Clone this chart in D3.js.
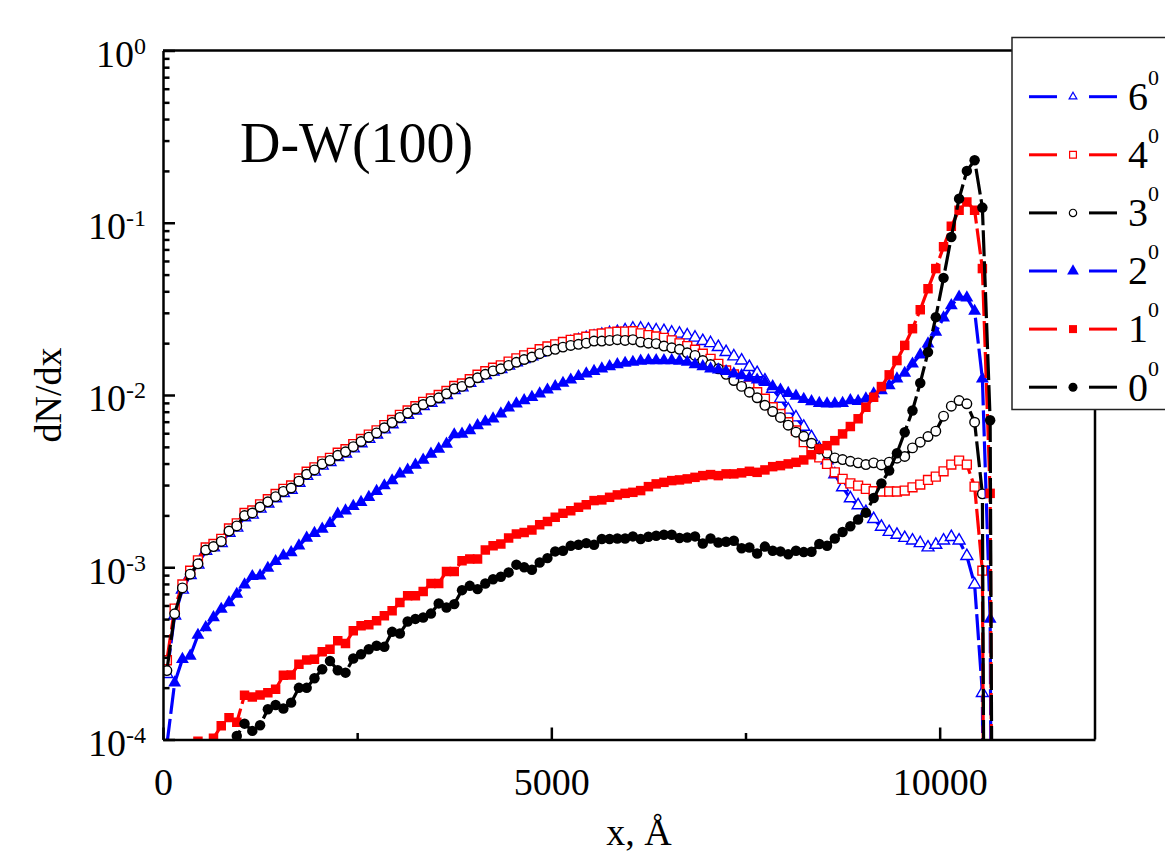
<!DOCTYPE html>
<html lang="en">
<head>
    <meta charset="UTF-8">
    <title>D-W(100) - dN/dx</title>
    <script src="https://d3js.org/d3.v7.min.js"></script>
    <style>
        html, body {
            margin: 0;
            background: #fff;
        }
        svg text {
            font-family: "Liberation Serif", "Times New Roman", serif;
            fill: #000;
        }
    </style>
</head>
<body>
    <div id="vis"></div>

    <script>
        /*
         *  DATA
         */
        // bin centres, Angstrom
        var xBins = [
            50, 150, 250, 350, 450, 550, 650, 750, 850, 950,
            1050, 1150, 1250, 1350, 1450, 1550, 1650, 1750, 1850, 1950,
            2050, 2150, 2250, 2350, 2450, 2550, 2650, 2750, 2850, 2950,
            3050, 3150, 3250, 3350, 3450, 3550, 3650, 3750, 3850, 3950,
            4050, 4150, 4250, 4350, 4450, 4550, 4650, 4750, 4850, 4950,
            5050, 5150, 5250, 5350, 5450, 5550, 5650, 5750, 5850, 5950,
            6050, 6150, 6250, 6350, 6450, 6550, 6650, 6750, 6850, 6950,
            7050, 7150, 7250, 7350, 7450, 7550, 7650, 7750, 7850, 7950,
            8050, 8150, 8250, 8350, 8450, 8550, 8650, 8750, 8850, 8950,
            9050, 9150, 9250, 9350, 9450, 9550, 9650, 9750, 9850, 9950,
            10050, 10150, 10250, 10350, 10450, 10550, 10650, 10750
        ];

        // log10(dN/dx) per bin. -12 = empty bin (falls off the log axis)
        var lg6 = [
            -3.62, -3.28, -3.13, -3.045, -2.985, -2.905, -2.885, -2.86, -2.80, -2.77,
            -2.71, -2.695, -2.66, -2.63, -2.60, -2.57, -2.55, -2.51, -2.47, -2.445,
            -2.41, -2.39, -2.36, -2.34, -2.31, -2.28, -2.255, -2.23, -2.20, -2.17,
            -2.14, -2.115, -2.09, -2.065, -2.045, -2.025, -2.00, -1.972, -1.956, -1.93,
            -1.905, -1.885, -1.864, -1.85, -1.83, -1.81, -1.792, -1.776, -1.755, -1.738,
            -1.724, -1.708, -1.694, -1.682, -1.67, -1.66, -1.65, -1.641, -1.635, -1.625,
            -1.615, -1.615, -1.621, -1.625, -1.629, -1.638, -1.644, -1.654, -1.667, -1.687,
            -1.699, -1.722, -1.751, -1.776, -1.80, -1.838, -1.873, -1.916, -1.964, -2.022,
            -2.085, -2.13, -2.185, -2.245, -2.31, -2.38, -2.46, -2.536, -2.60, -2.64,
            -2.68, -2.72, -2.765, -2.795, -2.812, -2.83, -2.845, -2.86, -2.885, -2.87,
            -2.845, -2.825, -2.845, -2.935, -3.10, -3.73, -12
        ];
        var lg4 = [
            -3.54, -3.24, -3.10, -3.02, -2.96, -2.885, -2.865, -2.835, -2.775, -2.745,
            -2.685, -2.67, -2.635, -2.605, -2.575, -2.545, -2.525, -2.485, -2.445, -2.42,
            -2.385, -2.365, -2.335, -2.315, -2.285, -2.255, -2.23, -2.205, -2.175, -2.145,
            -2.115, -2.09, -2.065, -2.04, -2.02, -2.00, -1.977, -1.948, -1.933, -1.908,
            -1.882, -1.862, -1.842, -1.828, -1.806, -1.787, -1.77, -1.755, -1.734, -1.718,
            -1.706, -1.692, -1.68, -1.672, -1.662, -1.648, -1.643, -1.636, -1.633, -1.632,
            -1.63, -1.642, -1.652, -1.66, -1.668, -1.683, -1.70, -1.716, -1.737, -1.76,
            -1.79, -1.819, -1.858, -1.881, -1.916, -1.945, -1.984, -2.022, -2.071, -2.11,
            -2.158, -2.206, -2.274, -2.327, -2.362, -2.40, -2.449, -2.487, -2.513, -2.526,
            -2.545, -2.559, -2.56, -2.56, -2.56, -2.555, -2.536, -2.52, -2.493, -2.474,
            -2.443, -2.404, -2.381, -2.404, -2.532, -3.02, -12
        ];
        var lg3 = [
            -3.60, -3.27, -3.12, -3.04, -2.98, -2.90, -2.88, -2.85, -2.79, -2.76,
            -2.70, -2.685, -2.65, -2.62, -2.59, -2.56, -2.54, -2.50, -2.46, -2.435,
            -2.40, -2.38, -2.35, -2.33, -2.30, -2.27, -2.245, -2.22, -2.19, -2.16,
            -2.13, -2.105, -2.08, -2.055, -2.036, -2.016, -1.993, -1.964, -1.95, -1.926,
            -1.90, -1.88, -1.86, -1.848, -1.828, -1.81, -1.794, -1.78, -1.76, -1.745,
            -1.735, -1.722, -1.712, -1.706, -1.699, -1.687, -1.687, -1.683, -1.679, -1.683,
            -1.679, -1.693, -1.699, -1.702, -1.716, -1.726, -1.735, -1.755, -1.77, -1.80,
            -1.823, -1.848, -1.88, -1.916, -1.95, -1.984, -2.016, -2.06, -2.096, -2.13,
            -2.175, -2.216, -2.24, -2.28, -2.313, -2.338, -2.365, -2.375, -2.385, -2.394,
            -2.404, -2.394, -2.406, -2.39, -2.367, -2.357, -2.307, -2.274, -2.241, -2.21,
            -2.123, -2.065, -2.032, -2.051, -2.158, -2.574, -12
        ];
        var lg2 = [
            -4.03, -3.67, -3.534, -3.515, -3.394, -3.35, -3.292, -3.243, -3.205, -3.156,
            -3.102, -3.053, -3.049, -3.005, -2.966, -2.933, -2.914, -2.875, -2.83, -2.803,
            -2.778, -2.745, -2.691, -2.672, -2.646, -2.623, -2.594, -2.559, -2.526, -2.497,
            -2.458, -2.435, -2.406, -2.377, -2.342, -2.313, -2.284, -2.23, -2.226, -2.206,
            -2.177, -2.155, -2.138, -2.109, -2.074, -2.051, -2.032, -2.013, -1.993, -1.97,
            -1.951, -1.931, -1.912, -1.892, -1.877, -1.862, -1.848, -1.834, -1.823, -1.815,
            -1.809, -1.803, -1.80, -1.80, -1.80, -1.80, -1.803, -1.809, -1.823, -1.834,
            -1.848, -1.853, -1.863, -1.877, -1.887, -1.90, -1.912, -1.926, -1.951, -1.97,
            -1.99, -2.006, -2.025, -2.038, -2.048, -2.051, -2.051, -2.048, -2.032, -2.036,
            -2.022, -1.993, -1.974, -1.945, -1.906, -1.873, -1.819, -1.766, -1.702, -1.635,
            -1.551, -1.48, -1.431, -1.435, -1.513, -1.906, -3.301, -12
        ];
        var lg1 = [
            -4.6, -4.45, -4.3, -4.15, -4.01, -4.06, -3.993, -3.92, -3.873, -3.90,
            -3.743, -3.753, -3.741, -3.728, -3.708, -3.627, -3.625, -3.563, -3.538, -3.534,
            -3.49, -3.476, -3.427, -3.443, -3.369, -3.34, -3.334, -3.311, -3.282, -3.253,
            -3.205, -3.166, -3.166, -3.141, -3.094, -3.094, -3.024, -3.024, -2.962, -2.952,
            -2.952, -2.90, -2.875, -2.865, -2.83, -2.807, -2.798, -2.784, -2.753, -2.735,
            -2.71, -2.687, -2.672, -2.652, -2.637, -2.613, -2.609, -2.594, -2.58, -2.571,
            -2.565, -2.555, -2.532, -2.516, -2.507, -2.497, -2.493, -2.487, -2.478, -2.468,
            -2.462, -2.468, -2.458, -2.458, -2.452, -2.443, -2.449, -2.435, -2.416, -2.41,
            -2.40, -2.391, -2.377, -2.347, -2.313, -2.294, -2.265, -2.226, -2.183, -2.138,
            -2.071, -2.013, -1.951, -1.883, -1.80, -1.712, -1.615, -1.505, -1.383, -1.266,
            -1.14, -1.02, -0.927, -0.879, -0.927, -1.266, -2.571, -12
        ];
        var lg0 = [
            -4.7, -4.6, -4.5, -4.4, -4.35, -4.3, -4.2, -4.15, -4.08, -3.98,
            -3.908, -3.95, -3.917, -3.824, -3.80, -3.82, -3.786, -3.70, -3.70, -3.644,
            -3.592, -3.544, -3.598, -3.612, -3.53, -3.505, -3.476, -3.456, -3.462, -3.375,
            -3.385, -3.315, -3.30, -3.292, -3.269, -3.21, -3.234, -3.214, -3.133, -3.108,
            -3.127, -3.094, -3.07, -3.055, -3.03, -2.985, -3.00, -3.015, -2.972, -2.947,
            -2.908, -2.904, -2.875, -2.869, -2.86, -2.869, -2.836, -2.836, -2.833, -2.833,
            -2.821, -2.836, -2.823, -2.817, -2.811, -2.811, -2.83, -2.827, -2.821, -2.862,
            -2.833, -2.856, -2.852, -2.846, -2.89, -2.885, -2.92, -2.88, -2.904, -2.908,
            -2.925, -2.904, -2.912, -2.91, -2.865, -2.875, -2.833, -2.795, -2.762, -2.723,
            -2.683, -2.598, -2.513, -2.439, -2.338, -2.216, -2.09, -1.93, -1.751, -1.548,
            -1.32, -1.083, -0.86, -0.699, -0.637, -0.912, -2.147, -12
        ];

        var seriesLabels = ["6", "4", "3", "2", "1", "0"];
        var xTickLabels = [0, 5000, 10000];
        var xMinorTicks = [2500, 7500];
        var yDecades = [1e-4, 1e-3, 1e-2, 1e-1, 1];

        /*
         *  LAYOUT
         */
        var view_width = 1165;
        var view_height = 854;
        var margin = {top: 50.5, left: 163};
        var width = 1095 - 163;
        var height = 739.5 - 50.5;

        var svg = d3.select('#vis')
            .append('svg')
                .attr('width', view_width)
                .attr('height', view_height);

        var plot = svg.append('g')
            .attr('transform', 'translate(' + margin.left + ',' + margin.top + ')');

        var x = d3.scaleLinear().domain([0, 12000]).range([0, width]);
        var y = d3.scaleLog().domain([1e-4, 1]).range([height, 0]);

        // one entry per zone, in the drawing order of the original (6 deg first, 0 deg on top)
        var series = [
            {label: seriesLabels[0], lg: lg6, color: '#0000ff', shape: d3.symbolTriangle, size: 62, filled: false},
            {label: seriesLabels[1], lg: lg4, color: '#ff0000', shape: d3.symbolSquare, size: 80, filled: false},
            {label: seriesLabels[2], lg: lg3, color: '#000000', shape: d3.symbolCircle, size: 72, filled: false},
            {label: seriesLabels[3], lg: lg2, color: '#0000ff', shape: d3.symbolTriangle, size: 72, filled: true},
            {label: seriesLabels[4], lg: lg1, color: '#ff0000', shape: d3.symbolSquare, size: 90, filled: true},
            {label: seriesLabels[5], lg: lg0, color: '#000000', shape: d3.symbolCircle, size: 86, filled: true}
        ];

        svg.append('defs').append('clipPath')
            .attr('id', 'plotClip')
            .append('rect')
                .attr('x', 0).attr('y', 0)
                .attr('width', width).attr('height', height);

        var line = d3.line()
            .x(function(d) { return x(d.x); })
            .y(function(d) { return y(d.v); });

        var dataLayer = plot.append('g').attr('clip-path', 'url(#plotClip)');

        series.forEach(function(s) {
            var pts = s.lg.map(function(v, i) { return {x: xBins[i], v: Math.pow(10, v)}; });

            dataLayer.append('path')
                .datum(pts)
                .attr('d', line)
                .attr('fill', 'none')
                .attr('stroke', s.color)
                .attr('stroke-width', 3.2)
                .attr('stroke-dasharray', '26,5');

            dataLayer.append('g')
                .selectAll('path')
                .data(pts)
                .enter()
                .append('path')
                    .attr('transform', function(d) { return 'translate(' + x(d.x) + ',' + y(d.v) + ')'; })
                    .attr('d', d3.symbol().type(s.shape).size(s.size))
                    .attr('fill', s.filled ? s.color : '#fff')
                    .attr('stroke', s.color)
                    .attr('stroke-width', s.filled ? 0 : 1.4);
        });

        /*
         *  AXES
         */
        function supLabel(sel, supSize, supDy) {
            sel.each(function(d) {
                var t = d3.select(this);
                var e = Math.round(Math.log10(d));
                t.text(null);
                t.append('tspan').text('10');
                t.append('tspan')
                    .attr('dy', supDy)
                    .attr('font-size', supSize)
                    .text(e);
            });
        }

        var yMinorVals = [];
        [1e-4, 1e-3, 1e-2, 1e-1].forEach(function(dec) {
            [2, 3, 4, 5, 6, 7, 8, 9].forEach(function(m) { yMinorVals.push(m * dec); });
        });

        var yMinor = plot.append('g')
            .call(d3.axisLeft(y).tickValues(yMinorVals).tickSize(-6.5).tickFormat(''));
        yMinor.select('.domain').remove();

        var yAxis = plot.append('g')
            .call(d3.axisLeft(y).tickValues(yDecades).tickSize(-12).tickSizeOuter(0).tickPadding(17));
        yAxis.attr('font-size', 38).attr('font-family', null);
        yAxis.selectAll('.tick text').attr('dy', '0.42em').call(supLabel, 24, -13);

        var xMinor = plot.append('g')
            .attr('transform', 'translate(0,' + height + ')')
            .call(d3.axisBottom(x).tickValues(xMinorTicks).tickSize(-6.5).tickFormat(''));
        xMinor.select('.domain').remove();

        var xAxis = plot.append('g')
            .attr('transform', 'translate(0,' + height + ')')
            .call(d3.axisBottom(x).tickValues(xTickLabels).tickSize(-12).tickSizeOuter(0).tickPadding(29)
                .tickFormat(d3.format('d')));
        xAxis.attr('font-size', 38).attr('font-family', null);

        plot.selectAll('.domain, .tick line').attr('stroke-width', 2.5);

        // top and right edges of the frame
        plot.append('path')
            .attr('d', 'M0,0H' + width + 'V' + height)
            .attr('fill', 'none')
            .attr('stroke', '#000')
            .attr('stroke-width', 2.5);

        // axis titles
        svg.append('text')
            .attr('x', 639)
            .attr('y', 845)
            .attr('text-anchor', 'middle')
            .attr('font-size', 38)
            .text('x, \u00c5');

        svg.append('text')
            .attr('transform', 'translate(61,395) rotate(-90)')
            .attr('text-anchor', 'middle')
            .attr('font-size', 38)
            .text('dN/dx');

        svg.append('text')
            .attr('x', 240)
            .attr('y', 162)
            .attr('font-size', 56)
            .text('D-W(100)');

        /*
         *  LEGEND
         */
        var legend = svg.append('g').attr('transform', 'translate(1012,37.5)');

        legend.append('rect')
            .attr('width', 170)
            .attr('height', 372)
            .attr('fill', '#fff')
            .attr('stroke', '#222')
            .attr('stroke-width', 1.5);

        var legendMarkerSize = [26, 46, 42, 60, 64, 64];

        var entry = legend.selectAll('.entry')
            .data(series)
            .enter()
            .append('g')
                .attr('class', 'entry')
                .attr('transform', function(d, i) { return 'translate(0,' + (59.2 + i * 58.1) + ')'; });

        entry.append('line')
            .attr('x1', 17).attr('x2', 45)
            .attr('stroke', function(d) { return d.color; })
            .attr('stroke-width', 3);

        entry.append('line')
            .attr('x1', 77).attr('x2', 105)
            .attr('stroke', function(d) { return d.color; })
            .attr('stroke-width', 3);

        entry.append('path')
            .attr('transform', 'translate(61,0)')
            .attr('d', function(d, i) { return d3.symbol().type(d.shape).size(legendMarkerSize[i])(); })
            .attr('fill', function(d) { return d.filled ? d.color : '#fff'; })
            .attr('stroke', function(d) { return d.color; })
            .attr('stroke-width', function(d) { return d.filled ? 0 : 1.2; });

        var lt = entry.append('text')
            .attr('x', 116)
            .attr('y', 13.3)
            .attr('font-size', 40);
        lt.append('tspan').text(function(d) { return d.label; });
        lt.append('tspan')
            .attr('dy', -25)
            .attr('font-size', 22)
            .text('0');
    </script>
</body>
</html>
